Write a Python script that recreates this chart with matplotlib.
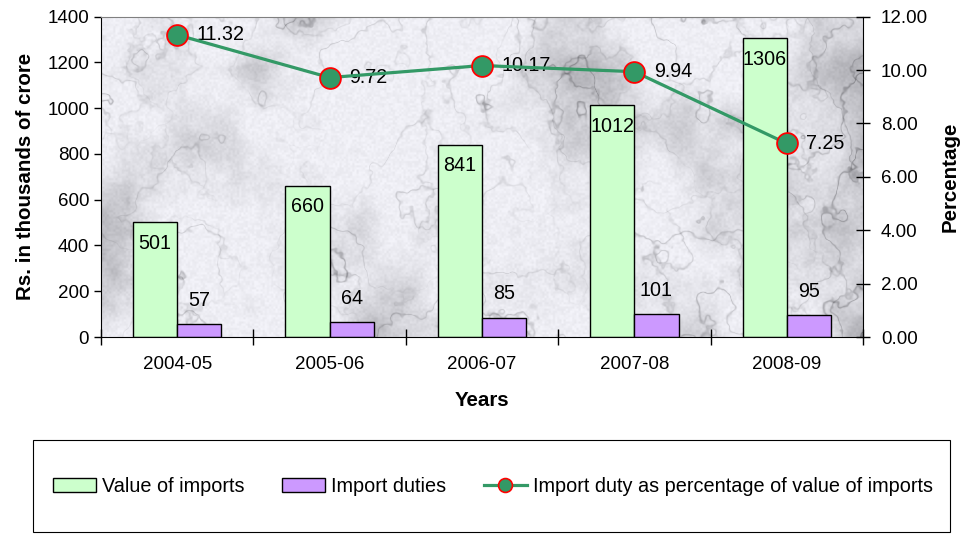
import numpy as np
import matplotlib
matplotlib.use("Agg")
import matplotlib.pyplot as plt
from matplotlib.patches import Rectangle, Patch
from matplotlib.lines import Line2D

plt.rcParams['font.family'] = ['Liberation Sans', 'DejaVu Sans']

years = ['2004-05', '2005-06', '2006-07', '2007-08', '2008-09']
value_of_imports = [501, 660, 841, 1012, 1306]
import_duties = [57, 64, 85, 101, 95]
duty_percentage = [11.32, 9.72, 10.17, 9.94, 7.25]

GREEN_BAR = '#CCFFCC'
PURPLE_BAR = '#CC99FF'
LINE_GREEN = '#339966'
FS = 13.5        # tick labels
FS_DATA = 14.2   # value labels
FS_TITLE = 14.8  # axis titles


def value_noise(h, w, cells, rng):
    """Smoothly interpolated lattice noise."""
    cy = cells
    cx = int(cells * w / h) + 1
    grid = rng.random((cy + 2, cx + 2))
    ys = np.linspace(0, cy, h, endpoint=False)
    xs = np.linspace(0, cx, w, endpoint=False)
    y0 = ys.astype(int); x0 = xs.astype(int)
    fy = (ys - y0)[:, None]; fx = (xs - x0)[None, :]
    fy = fy * fy * (3 - 2 * fy); fx = fx * fx * (3 - 2 * fx)
    a = grid[y0][:, x0]; b = grid[y0][:, x0 + 1]
    c = grid[y0 + 1][:, x0]; d = grid[y0 + 1][:, x0 + 1]
    return (a * (1 - fx) + b * fx) * (1 - fy) + (c * (1 - fx) + d * fx) * fy


def fbm(h, w, rng, octaves):
    out = np.zeros((h, w))
    amp, total = 1.0, 0.0
    for cells in octaves:
        out += amp * value_noise(h, w, cells, rng)
        total += amp
        amp *= 0.55
    return out / total


def marble(h, w, seed=11):
    rng = np.random.default_rng(seed)
    clouds = fbm(h, w, rng, (3, 6, 12, 24, 48, 96))
    warp = fbm(h, w, rng, (4, 8, 16, 32, 64))
    yy, xx = np.mgrid[0:h, 0:w]
    # soft grey blotches
    blot = np.clip((clouds - 0.42) * 3.0, 0, 1) ** 1.4
    # thin diagonal cracks
    v1 = np.abs(np.sin(xx * 0.018 + yy * 0.03 + warp * 14.0))
    v2 = np.abs(np.sin(xx * 0.03 - yy * 0.015 + clouds * 12.0))
    cracks = np.exp(-(v1 / 0.14) ** 2) * 0.6 + np.exp(-(v2 / 0.12) ** 2) * 0.45
    crack_mask = np.clip((warp - 0.3) * 2.5, 0, 1)
    grain = value_noise(h, w, 150, rng)
    shade = 0.96 - 0.22 * blot - 0.30 * cracks * crack_mask - 0.05 * grain
    shade = np.clip(shade, 0.5, 1.0)
    img = np.dstack([shade, shade, np.clip(shade * 1.01 + 0.015, 0, 1)])
    return img


fig = plt.figure(figsize=(9.69, 5.35), dpi=100)
ax = fig.add_axes([101 / 969, 1 - 337 / 535, (863 - 101) / 969, (337 - 16.7) / 535])

x = np.arange(len(years))
bw = 0.29

# marble backdrop filling the plot area
ax.imshow(marble(321, 762), extent=(-0.5, len(years) - 0.5, 0, 1400),
          aspect='auto', zorder=0, interpolation='bilinear')

ax.bar(x - bw / 2, value_of_imports, bw, color=GREEN_BAR,
       edgecolor='black', linewidth=1, zorder=2)
ax.bar(x + bw / 2, import_duties, bw, color=PURPLE_BAR,
       edgecolor='black', linewidth=1, zorder=2)

for xi, v in zip(x, value_of_imports):
    ax.annotate(f'{v}', (xi - bw / 2, v), xytext=(0, -15), textcoords='offset points',
                ha='center', va='center', fontsize=FS_DATA, zorder=3)
for xi, v in zip(x, import_duties):
    ax.annotate(f'{v}', (xi + bw / 2, v), xytext=(0, 17), textcoords='offset points',
                ha='center', va='center', fontsize=FS_DATA, zorder=3)

ax.set_xlim(-0.5, len(years) - 0.5)
ax.set_ylim(0, 1400)
ax.set_yticks(range(0, 1401, 200))
ax.set_xticks(x)
ax.set_xticklabels(years, fontsize=FS)
ax.set_xticks(np.arange(-0.5, len(years), 1), minor=True)
ax.tick_params(axis='x', which='major', length=0, pad=14)
ax.tick_params(axis='x', which='minor', direction='inout', length=11, width=1)
ax.tick_params(axis='y', labelsize=FS, direction='out', length=5, width=1)
ax.set_xlabel('Years', fontsize=FS_TITLE, fontweight='bold', labelpad=13)
ax.set_ylabel('Rs. in thousands of crore', fontsize=FS_TITLE, fontweight='bold', labelpad=9)
ax.spines['top'].set_color('#808080')
ax.spines['right'].set_visible(False)

ax2 = ax.twinx()
ax2.plot(x, duty_percentage, color=LINE_GREEN, linewidth=2.3, marker='o',
         markersize=15, markerfacecolor=LINE_GREEN, markeredgecolor='red',
         markeredgewidth=1.3, zorder=4, clip_on=False)
for xi, v in zip(x, duty_percentage):
    ax2.annotate(f'{v:.2f}', (xi, v), xytext=(14, 0), textcoords='offset points',
                 ha='left', va='center', fontsize=FS_DATA)
ax2.set_ylim(0, 12)
ax2.set_yticks(np.arange(0, 12.01, 2))
ax2.set_yticklabels([f'{t:.2f}' for t in np.arange(0, 12.01, 2)])
ax2.tick_params(axis='y', labelsize=FS, direction='inout', length=10, width=1, pad=8)
ax2.set_ylabel('Percentage', fontsize=FS_TITLE, fontweight='bold', labelpad=9)
for s in ('top', 'left', 'bottom'):
    ax2.spines[s].set_visible(False)

# legend box beneath the chart
fig.add_artist(Rectangle((33 / 969, 3 / 535), (950 - 33) / 969, (532 - 440) / 535,
                         transform=fig.transFigure, fill=False,
                         edgecolor='black', linewidth=0.8))
handles = [
    Patch(facecolor=GREEN_BAR, edgecolor='black', linewidth=1),
    Patch(facecolor=PURPLE_BAR, edgecolor='black', linewidth=1),
    Line2D([], [], color=LINE_GREEN, linewidth=2.3, marker='o', markersize=10,
           markerfacecolor=LINE_GREEN, markeredgecolor='red', markeredgewidth=1.2),
]
labels = ['Value of imports', 'Import duties',
          'Import duty as percentage of value of imports']
fig.legend(handles, labels, loc='center', bbox_to_anchor=(493 / 969, 1 - 486 / 535),
           ncol=3, frameon=False, fontsize=14.3, handlelength=2.15, handleheight=0.7,
           handletextpad=0.3, columnspacing=1.9)

fig.savefig('out.png', dpi=100)
